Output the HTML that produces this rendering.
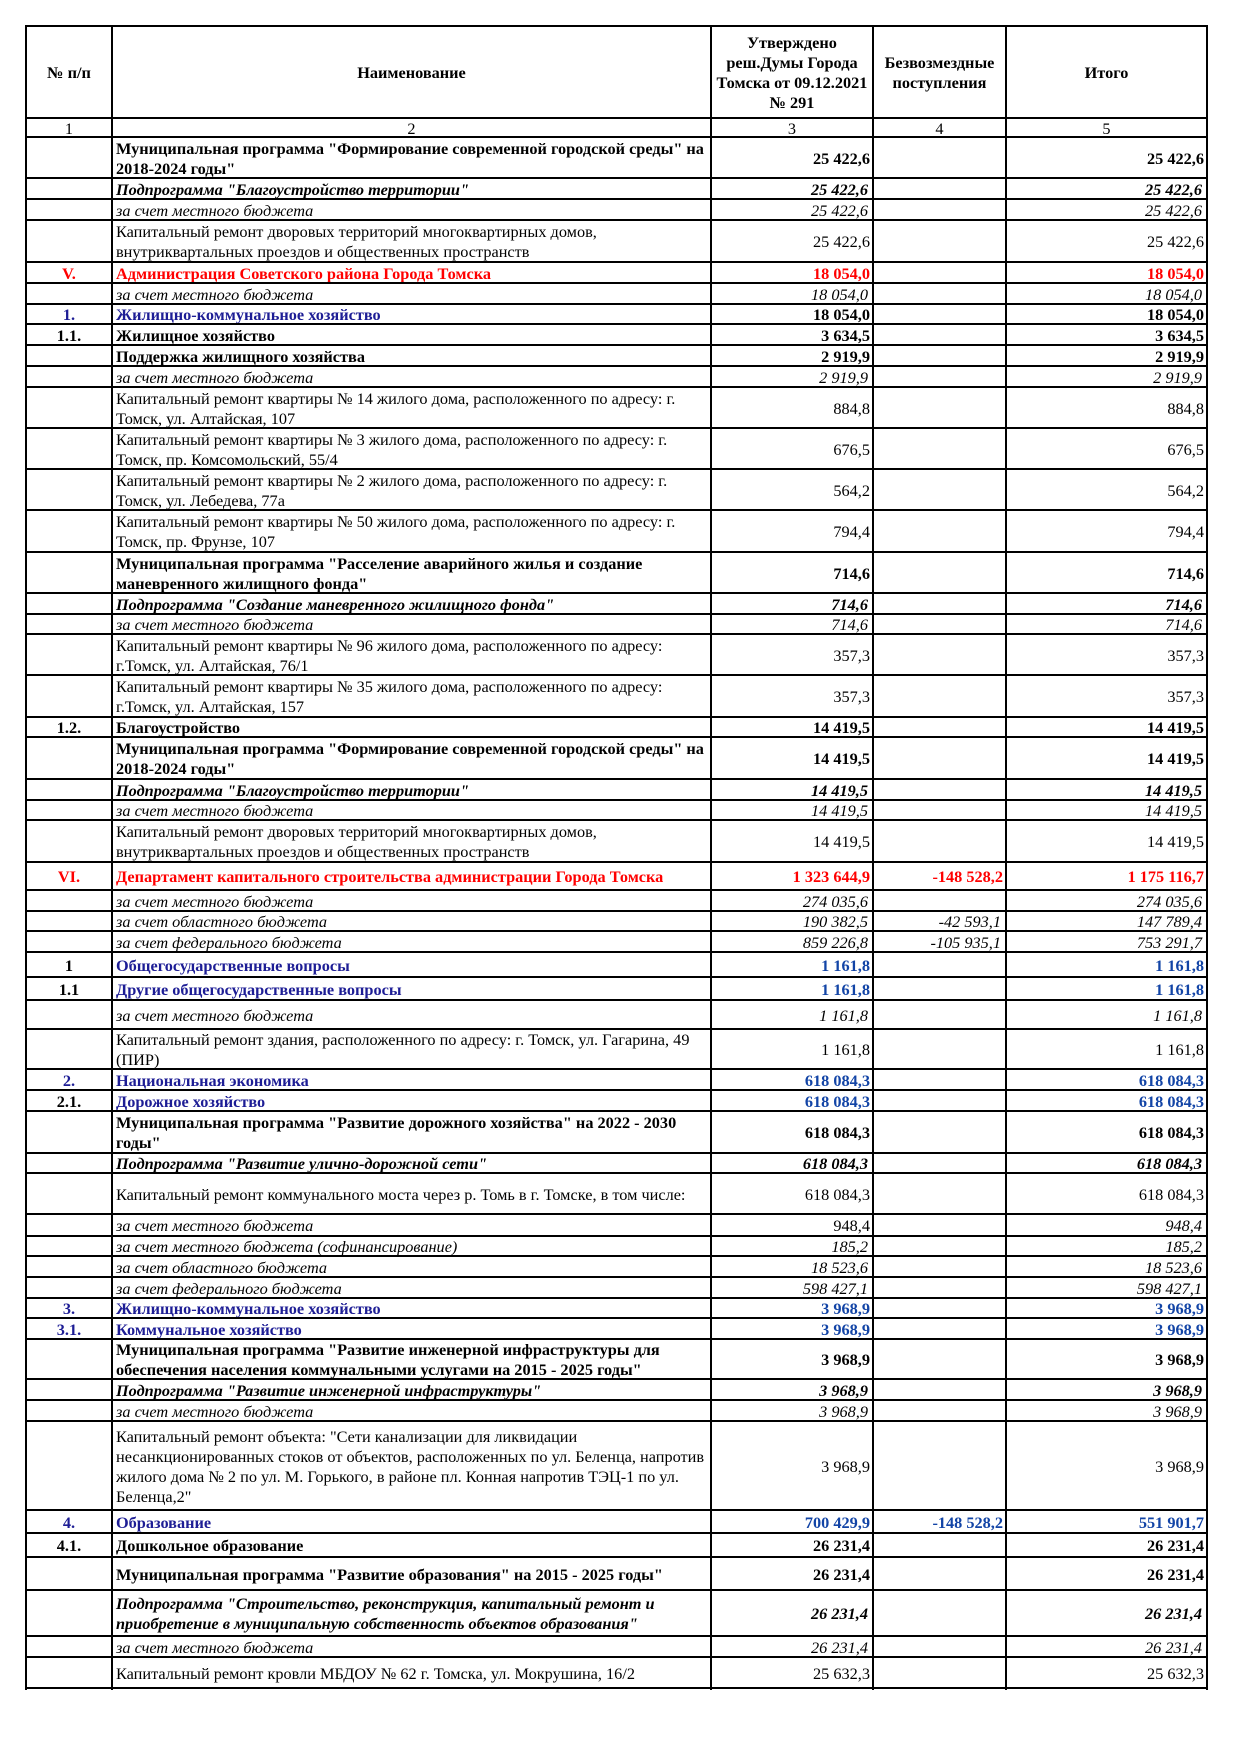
<!DOCTYPE html>
<html><head><meta charset="utf-8">
<style>
body{margin:0;background:#fff}
#p{position:relative;width:1240px;height:1754px;overflow:hidden;background:#fff;font-family:"Liberation Serif","Times New Roman",serif;font-size:16.3px;color:#000}
.r{position:absolute;left:0;width:1240px}
.r>div{position:absolute;top:0;bottom:0;display:flex;align-items:center;white-space:nowrap;line-height:20px;box-sizing:border-box;padding-top:2px}
.c1{left:26px;width:86px;justify-content:center}
.c2{left:112px;width:599px;padding-left:4px}
.c3{left:711px;width:162px;padding-right:3px;justify-content:flex-end}
.c4{left:873px;width:133px;padding-right:3px;justify-content:flex-end}
.c5{left:1006px;width:201px;padding-right:3px;justify-content:flex-end}
.r>div.ctr{justify-content:center;text-align:center;padding:2px 0 0 0}
.b{font-weight:bold}
.i{font-style:italic}
.r>div.i{padding-right:5px}
.r>div.c2.i{padding-left:4px;padding-right:0}
.red{color:#f00}
.nv{color:#1d1d95}
.nb{color:#1244a6}
.h{position:absolute;left:25px;width:1183px;height:2px;background:#000}
.v{position:absolute;top:25px;height:1665px;width:2px;background:#000}
</style></head><body><div id="p">

<!-- header -->
<div class="r" style="top:26px;height:92px">
<div class="c1 b ctr"><span>№ п/п</span></div>
<div class="c2 b ctr"><span>Наименование</span></div>
<div class="c3 b ctr"><span>Утверждено<br>реш.Думы Города<br>Томска от 09.12.2021<br>№ 291</span></div>
<div class="c4 b ctr"><span>Безвозмездные<br>поступления</span></div>
<div class="c5 b ctr"><span>Итого</span></div>
</div>
<div class="r" style="top:118px;height:19px">
<div class="c1 ctr"><span>1</span></div><div class="c2 ctr"><span>2</span></div><div class="c3 ctr"><span>3</span></div><div class="c4 ctr"><span>4</span></div><div class="c5 ctr"><span>5</span></div>
</div>

<div class="r" style="top:137px;height:41px"><div class="c2 b"><span>Муниципальная программа "Формирование современной городской среды" на<br>2018-2024 годы"</span></div><div class="c3 b"><span>25 422,6</span></div><div class="c5 b"><span>25 422,6</span></div></div>
<div class="r" style="top:178px;height:21px"><div class="c2 b i"><span>Подпрограмма "Благоустройство территории"</span></div><div class="c3 b i"><span>25 422,6</span></div><div class="c5 b i"><span>25 422,6</span></div></div>
<div class="r" style="top:199px;height:21px"><div class="c2 i"><span>за счет местного бюджета</span></div><div class="c3 i"><span>25 422,6</span></div><div class="c5 i"><span>25 422,6</span></div></div>
<div class="r" style="top:220px;height:42px"><div class="c2"><span>Капитальный ремонт дворовых территорий многоквартирных домов,<br>внутриквартальных проездов и общественных пространств</span></div><div class="c3"><span>25 422,6</span></div><div class="c5"><span>25 422,6</span></div></div>
<div class="r" style="top:262px;height:21px"><div class="c1 b red"><span>V.</span></div><div class="c2 b red"><span>Администрация Советского района Города Томска</span></div><div class="c3 b red"><span>18 054,0</span></div><div class="c5 b red"><span>18 054,0</span></div></div>
<div class="r" style="top:283px;height:21px"><div class="c2 i"><span>за счет местного бюджета</span></div><div class="c3 i"><span>18 054,0</span></div><div class="c5 i"><span>18 054,0</span></div></div>
<div class="r" style="top:304px;height:20px"><div class="c1 b nv"><span>1.</span></div><div class="c2 b nv"><span>Жилищно-коммунальное хозяйство</span></div><div class="c3 b"><span>18 054,0</span></div><div class="c5 b"><span>18 054,0</span></div></div>
<div class="r" style="top:324px;height:21px"><div class="c1 b"><span>1.1.</span></div><div class="c2 b"><span>Жилищное хозяйство</span></div><div class="c3 b"><span>3 634,5</span></div><div class="c5 b"><span>3 634,5</span></div></div>
<div class="r" style="top:345px;height:21px"><div class="c2 b"><span>Поддержка жилищного хозяйства</span></div><div class="c3 b"><span>2 919,9</span></div><div class="c5 b"><span>2 919,9</span></div></div>
<div class="r" style="top:366px;height:21px"><div class="c2 i"><span>за счет местного бюджета</span></div><div class="c3 i"><span>2 919,9</span></div><div class="c5 i"><span>2 919,9</span></div></div>
<div class="r" style="top:387px;height:41px"><div class="c2"><span>Капитальный ремонт квартиры № 14 жилого дома, расположенного по адресу: г.<br>Томск, ул. Алтайская, 107</span></div><div class="c3"><span>884,8</span></div><div class="c5"><span>884,8</span></div></div>
<div class="r" style="top:428px;height:41px"><div class="c2"><span>Капитальный ремонт квартиры № 3 жилого дома, расположенного по адресу: г.<br>Томск, пр. Комсомольский, 55/4</span></div><div class="c3"><span>676,5</span></div><div class="c5"><span>676,5</span></div></div>
<div class="r" style="top:469px;height:41px"><div class="c2"><span>Капитальный ремонт квартиры № 2 жилого дома, расположенного по адресу: г.<br>Томск, ул. Лебедева, 77а</span></div><div class="c3"><span>564,2</span></div><div class="c5"><span>564,2</span></div></div>
<div class="r" style="top:510px;height:42px"><div class="c2"><span>Капитальный ремонт квартиры № 50 жилого дома, расположенного по адресу: г.<br>Томск, пр. Фрунзе, 107</span></div><div class="c3"><span>794,4</span></div><div class="c5"><span>794,4</span></div></div>
<div class="r" style="top:552px;height:41px"><div class="c2 b"><span>Муниципальная программа "Расселение аварийного жилья и создание<br>маневренного жилищного фонда"</span></div><div class="c3 b"><span>714,6</span></div><div class="c5 b"><span>714,6</span></div></div>
<div class="r" style="top:593px;height:21px"><div class="c2 b i"><span>Подпрограмма "Создание маневренного жилищного фонда"</span></div><div class="c3 b i"><span>714,6</span></div><div class="c5 b i"><span>714,6</span></div></div>
<div class="r" style="top:614px;height:20px"><div class="c2 i"><span>за счет местного бюджета</span></div><div class="c3 i"><span>714,6</span></div><div class="c5 i"><span>714,6</span></div></div>
<div class="r" style="top:634px;height:41px"><div class="c2"><span>Капитальный ремонт квартиры № 96 жилого дома, расположенного по адресу:<br>г.Томск, ул. Алтайская, 76/1</span></div><div class="c3"><span>357,3</span></div><div class="c5"><span>357,3</span></div></div>
<div class="r" style="top:675px;height:42px"><div class="c2"><span>Капитальный ремонт квартиры № 35 жилого дома, расположенного по адресу:<br>г.Томск, ул. Алтайская, 157</span></div><div class="c3"><span>357,3</span></div><div class="c5"><span>357,3</span></div></div>
<div class="r" style="top:717px;height:20px"><div class="c1 b"><span>1.2.</span></div><div class="c2 b"><span>Благоустройство</span></div><div class="c3 b"><span>14 419,5</span></div><div class="c5 b"><span>14 419,5</span></div></div>
<div class="r" style="top:737px;height:42px"><div class="c2 b"><span>Муниципальная программа "Формирование современной городской среды" на<br>2018-2024 годы"</span></div><div class="c3 b"><span>14 419,5</span></div><div class="c5 b"><span>14 419,5</span></div></div>
<div class="r" style="top:779px;height:21px"><div class="c2 b i"><span>Подпрограмма "Благоустройство территории"</span></div><div class="c3 b i"><span>14 419,5</span></div><div class="c5 b i"><span>14 419,5</span></div></div>
<div class="r" style="top:800px;height:20px"><div class="c2 i"><span>за счет местного бюджета</span></div><div class="c3 i"><span>14 419,5</span></div><div class="c5 i"><span>14 419,5</span></div></div>
<div class="r" style="top:820px;height:42px"><div class="c2"><span>Капитальный ремонт дворовых территорий многоквартирных домов,<br>внутриквартальных проездов и общественных пространств</span></div><div class="c3"><span>14 419,5</span></div><div class="c5"><span>14 419,5</span></div></div>
<div class="r" style="top:862px;height:28px"><div class="c1 b red"><span>VI.</span></div><div class="c2 b red"><span>Департамент капитального строительства администрации Города Томска</span></div><div class="c3 b red"><span>1 323 644,9</span></div><div class="c4 b red"><span>-148 528,2</span></div><div class="c5 b red"><span>1 175 116,7</span></div></div>
<div class="r" style="top:890px;height:21px"><div class="c2 i"><span>за счет местного бюджета</span></div><div class="c3 i"><span>274 035,6</span></div><div class="c5 i"><span>274 035,6</span></div></div>
<div class="r" style="top:911px;height:20px"><div class="c2 i"><span>за счет областного бюджета</span></div><div class="c3 i"><span>190 382,5</span></div><div class="c4 i"><span>-42 593,1</span></div><div class="c5 i"><span>147 789,4</span></div></div>
<div class="r" style="top:931px;height:21px"><div class="c2 i"><span>за счет федерального бюджета</span></div><div class="c3 i"><span>859 226,8</span></div><div class="c4 i"><span>-105 935,1</span></div><div class="c5 i"><span>753 291,7</span></div></div>
<div class="r" style="top:952px;height:25px"><div class="c1 b"><span>1</span></div><div class="c2 b nv"><span>Общегосударственные вопросы</span></div><div class="c3 b nb"><span>1 161,8</span></div><div class="c5 b nb"><span>1 161,8</span></div></div>
<div class="r" style="top:977px;height:23px"><div class="c1 b"><span>1.1</span></div><div class="c2 b nv"><span>Другие общегосударственные вопросы</span></div><div class="c3 b nb"><span>1 161,8</span></div><div class="c5 b nb"><span>1 161,8</span></div></div>
<div class="r" style="top:1000px;height:29px"><div class="c2 i"><span>за счет местного бюджета</span></div><div class="c3 i"><span>1 161,8</span></div><div class="c5 i"><span>1 161,8</span></div></div>
<div class="r" style="top:1029px;height:40px"><div class="c2"><span>Капитальный ремонт здания, расположенного по адресу: г. Томск, ул. Гагарина, 49<br>(ПИР)</span></div><div class="c3"><span>1 161,8</span></div><div class="c5"><span>1 161,8</span></div></div>
<div class="r" style="top:1069px;height:21px"><div class="c1 b nv"><span>2.</span></div><div class="c2 b nv"><span>Национальная экономика</span></div><div class="c3 b nb"><span>618 084,3</span></div><div class="c5 b nb"><span>618 084,3</span></div></div>
<div class="r" style="top:1090px;height:21px"><div class="c1 b"><span>2.1.</span></div><div class="c2 b nv"><span>Дорожное хозяйство</span></div><div class="c3 b nb"><span>618 084,3</span></div><div class="c5 b nb"><span>618 084,3</span></div></div>
<div class="r" style="top:1111px;height:42px"><div class="c2 b"><span>Муниципальная программа "Развитие дорожного хозяйства" на 2022 - 2030<br>годы"</span></div><div class="c3 b"><span>618 084,3</span></div><div class="c5 b"><span>618 084,3</span></div></div>
<div class="r" style="top:1153px;height:20px"><div class="c2 b i"><span>Подпрограмма "Развитие улично-дорожной сети"</span></div><div class="c3 b i"><span>618 084,3</span></div><div class="c5 b i"><span>618 084,3</span></div></div>
<div class="r" style="top:1173px;height:41px"><div class="c2"><span>Капитальный ремонт коммунального моста через р. Томь в г. Томске, в том числе:</span></div><div class="c3"><span>618 084,3</span></div><div class="c5"><span>618 084,3</span></div></div>
<div class="r" style="top:1214px;height:22px"><div class="c2 i"><span>за счет местного бюджета</span></div><div class="c3"><span>948,4</span></div><div class="c5 i"><span>948,4</span></div></div>
<div class="r" style="top:1236px;height:20px"><div class="c2 i"><span>за счет местного бюджета (софинансирование)</span></div><div class="c3 i"><span>185,2</span></div><div class="c5 i"><span>185,2</span></div></div>
<div class="r" style="top:1256px;height:21px"><div class="c2 i"><span>за счет областного бюджета</span></div><div class="c3 i"><span>18 523,6</span></div><div class="c5 i"><span>18 523,6</span></div></div>
<div class="r" style="top:1277px;height:21px"><div class="c2 i"><span>за счет федерального бюджета</span></div><div class="c3 i"><span>598 427,1</span></div><div class="c5 i"><span>598 427,1</span></div></div>
<div class="r" style="top:1298px;height:20px"><div class="c1 b nv"><span>3.</span></div><div class="c2 b nv"><span>Жилищно-коммунальное хозяйство</span></div><div class="c3 b nb"><span>3 968,9</span></div><div class="c5 b nb"><span>3 968,9</span></div></div>
<div class="r" style="top:1318px;height:21px"><div class="c1 b nv"><span>3.1.</span></div><div class="c2 b nv"><span>Коммунальное хозяйство</span></div><div class="c3 b nb"><span>3 968,9</span></div><div class="c5 b nb"><span>3 968,9</span></div></div>
<div class="r" style="top:1339px;height:40px"><div class="c2 b"><span>Муниципальная программа "Развитие инженерной инфраструктуры для<br>обеспечения населения коммунальными услугами на 2015 - 2025 годы"</span></div><div class="c3 b"><span>3 968,9</span></div><div class="c5 b"><span>3 968,9</span></div></div>
<div class="r" style="top:1379px;height:21px"><div class="c2 b i"><span>Подпрограмма "Развитие инженерной инфраструктуры"</span></div><div class="c3 b i"><span>3 968,9</span></div><div class="c5 b i"><span>3 968,9</span></div></div>
<div class="r" style="top:1400px;height:21px"><div class="c2 i"><span>за счет местного бюджета</span></div><div class="c3 i"><span>3 968,9</span></div><div class="c5 i"><span>3 968,9</span></div></div>
<div class="r" style="top:1421px;height:89px"><div class="c2"><span>Капитальный ремонт объекта: "Сети канализации для ликвидации<br>несанкционированных стоков от объектов, расположенных по ул. Беленца, напротив<br>жилого дома № 2 по ул. М. Горького, в районе пл. Конная напротив ТЭЦ-1 по ул.<br>Беленца,2"</span></div><div class="c3"><span>3 968,9</span></div><div class="c5"><span>3 968,9</span></div></div>
<div class="r" style="top:1510px;height:23px"><div class="c1 b nv"><span>4.</span></div><div class="c2 b nv"><span>Образование</span></div><div class="c3 b nb"><span>700 429,9</span></div><div class="c4 b nb"><span>-148 528,2</span></div><div class="c5 b nb"><span>551 901,7</span></div></div>
<div class="r" style="top:1533px;height:24px"><div class="c1 b"><span>4.1.</span></div><div class="c2 b"><span>Дошкольное образование</span></div><div class="c3 b"><span>26 231,4</span></div><div class="c5 b"><span>26 231,4</span></div></div>
<div class="r" style="top:1557px;height:33px"><div class="c2 b"><span>Муниципальная программа "Развитие образования" на 2015 - 2025 годы"</span></div><div class="c3 b"><span>26 231,4</span></div><div class="c5 b"><span>26 231,4</span></div></div>
<div class="r" style="top:1590px;height:46px"><div class="c2 b i"><span>Подпрограмма "Строительство, реконструкция, капитальный ремонт и<br>приобретение в муниципальную собственность объектов образования"</span></div><div class="c3 b i"><span>26 231,4</span></div><div class="c5 b i"><span>26 231,4</span></div></div>
<div class="r" style="top:1636px;height:21px"><div class="c2 i"><span>за счет местного бюджета</span></div><div class="c3 i"><span>26 231,4</span></div><div class="c5 i"><span>26 231,4</span></div></div>
<div class="r" style="top:1657px;height:31px"><div class="c2"><span>Капитальный ремонт кровли МБДОУ № 62 г. Томска, ул. Мокрушина, 16/2</span></div><div class="c3"><span>25 632,3</span></div><div class="c5"><span>25 632,3</span></div></div>

<!-- horizontal lines -->
<div class="h" style="top:25px"></div><div class="h" style="top:117px"></div><div class="h" style="top:136px"></div><div class="h" style="top:177px"></div><div class="h" style="top:198px"></div><div class="h" style="top:219px"></div><div class="h" style="top:261px"></div><div class="h" style="top:282px"></div><div class="h" style="top:303px"></div><div class="h" style="top:323px"></div><div class="h" style="top:344px"></div><div class="h" style="top:365px"></div><div class="h" style="top:386px"></div><div class="h" style="top:427px"></div><div class="h" style="top:468px"></div><div class="h" style="top:509px"></div><div class="h" style="top:551px"></div><div class="h" style="top:592px"></div><div class="h" style="top:613px"></div><div class="h" style="top:633px"></div><div class="h" style="top:674px"></div><div class="h" style="top:716px"></div><div class="h" style="top:736px"></div><div class="h" style="top:778px"></div><div class="h" style="top:799px"></div><div class="h" style="top:819px"></div><div class="h" style="top:861px"></div><div class="h" style="top:889px"></div><div class="h" style="top:910px"></div><div class="h" style="top:930px"></div><div class="h" style="top:951px"></div><div class="h" style="top:976px"></div><div class="h" style="top:999px"></div><div class="h" style="top:1028px"></div><div class="h" style="top:1068px"></div><div class="h" style="top:1089px"></div><div class="h" style="top:1110px"></div><div class="h" style="top:1152px"></div><div class="h" style="top:1172px"></div><div class="h" style="top:1213px"></div><div class="h" style="top:1235px"></div><div class="h" style="top:1255px"></div><div class="h" style="top:1276px"></div><div class="h" style="top:1297px"></div><div class="h" style="top:1317px"></div><div class="h" style="top:1338px"></div><div class="h" style="top:1378px"></div><div class="h" style="top:1399px"></div><div class="h" style="top:1420px"></div><div class="h" style="top:1509px"></div><div class="h" style="top:1532px"></div><div class="h" style="top:1556px"></div><div class="h" style="top:1589px"></div><div class="h" style="top:1635px"></div><div class="h" style="top:1656px"></div><div class="h" style="top:1687px"></div>

<!-- vertical lines -->
<div class="v" style="left:25px"></div><div class="v" style="left:111px"></div><div class="v" style="left:710px"></div><div class="v" style="left:872px"></div><div class="v" style="left:1005px"></div><div class="v" style="left:1206px"></div>

</div></body></html>
